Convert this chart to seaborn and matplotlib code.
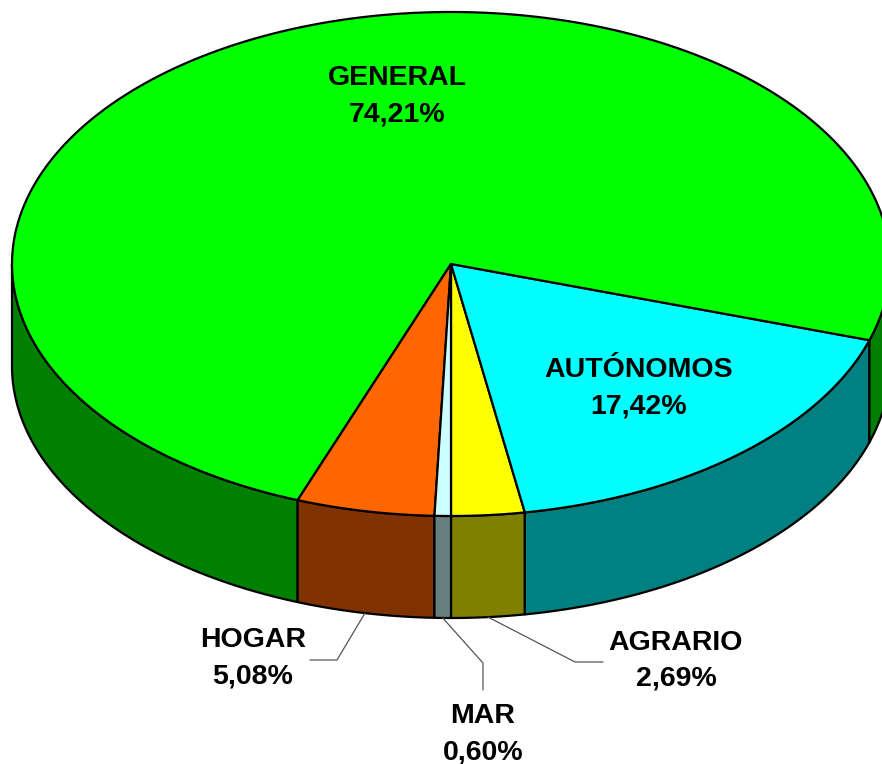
import numpy as np
import matplotlib
matplotlib.use("Agg")
import matplotlib.pyplot as plt
from matplotlib.patches import Polygon
import seaborn as sns

# data, counter-clockwise from the bottom of the pie
labels = ["AGRARIO", "AUTÓNOMOS", "GENERAL", "HOGAR", "MAR"]
shares = [2.69, 17.42, 74.21, 5.08, 0.60]
top_colors = ["#FFFF00", "#00FFFF", "#00FF00", "#FF6600", "#CCFFFF"]
side_colors = ["#808000", "#008080", "#008000", "#803300", "#668080"]

# layout (pixels, y down)
CX, CY, RX, RY, DEPTH = 451, 264, 439, 252, 102
START = -90.0
label_pos = {
    "GENERAL": (397, 78),
    "AUTÓNOMOS": (639, 370),
    "HOGAR": (253, 640),
    "MAR": (483, 716),
    "AGRARIO": (676, 643),
}
leader_elbows = {
    "HOGAR": [(337, 660), (310, 660)],
    "MAR": [(483, 663), (483, 690)],
    "AGRARIO": [(575, 662), (603, 662)],
}

sns.set_theme(style="white")
plt.rcParams["font.family"] = ["Liberation Sans", "DejaVu Sans"]


def arc(a, b, dy=0.0, n=200):
    t = np.radians(np.linspace(a, b, n))
    return np.column_stack([CX + RX * np.cos(t), CY - RY * np.sin(t) + dy])


fig = plt.figure(figsize=(8.82, 7.64), dpi=100)
ax = fig.add_axes([0, 0, 1, 1])
ax.set_xlim(0, 882)
ax.set_ylim(764, 0)
ax.set_aspect("equal")
ax.axis("off")

pct = np.array(shares) / np.sum(shares) * 360.0
edges = START + np.concatenate([[0], np.cumsum(pct)])

# front side faces (visible where angle lies in the lower half)
for i in range(len(labels)):
    a, b = edges[i], edges[i + 1]
    for k in (-1, 0, 1):
        lo, hi = max(a, -180 + 360 * k), min(b, 360 * k)
        if hi <= lo:
            continue
        top = arc(lo, hi)
        bot = arc(hi, lo, DEPTH)
        ax.add_patch(Polygon(np.vstack([top, bot]), closed=True,
                             facecolor=side_colors[i], edgecolor="black",
                             linewidth=1.6, joinstyle="round"))

# top faces
for i in range(len(labels)):
    a, b = edges[i], edges[i + 1]
    pts = np.vstack([[CX, CY], arc(a, b)])
    ax.add_patch(Polygon(pts, closed=True, facecolor=top_colors[i],
                         edgecolor="black", linewidth=1.6, joinstyle="round"))

# labels and leader lines
for i, name in enumerate(labels):
    x, y = label_pos[name]
    value = f"{shares[i]:.2f}".replace(".", ",") + "%"
    ax.text(x, y, name, ha="center", va="center", fontsize=20.5,
            fontweight="bold", color="black")
    ax.text(x, y + 36, value, ha="center", va="center", fontsize=20.5,
            fontweight="bold", color="black")
    if name in leader_elbows:
        mid = np.radians((edges[i] + edges[i + 1]) / 2)
        start = (CX + RX * np.cos(mid), CY - RY * np.sin(mid) + DEPTH)
        pts = np.array([start] + leader_elbows[name])
        ax.plot(pts[:, 0], pts[:, 1], color="#555555", linewidth=0.9)

fig.savefig("out.png", dpi=100, facecolor="white")
